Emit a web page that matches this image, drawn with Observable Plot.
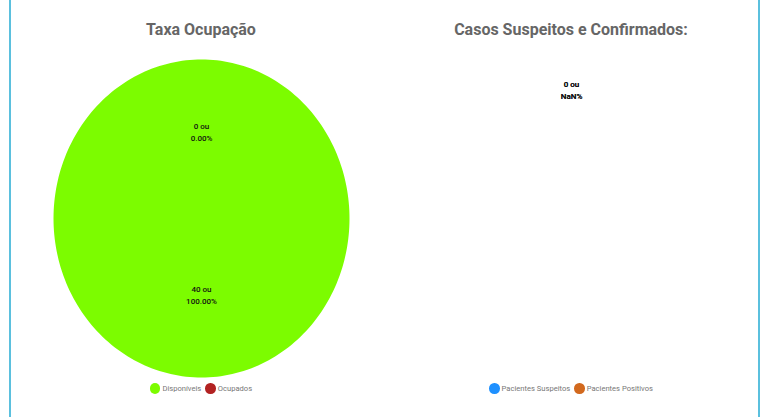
<!DOCTYPE html>
<html><head><meta charset="utf-8">
<script src="https://cdn.jsdelivr.net/npm/d3@7"></script>
<script src="https://cdn.jsdelivr.net/npm/@observablehq/plot@0.6"></script>
<style>
body{margin:0;background:#fff;font-family:Roboto,"Liberation Sans",sans-serif;width:761px;height:417px;overflow:hidden;position:relative}
#frame{position:absolute;left:9px;top:-2px;width:747px;height:425px;border-left:2px solid #5bc0de;border-right:2px solid #5bc0de;}
.half{position:absolute;top:0;width:370px;height:417px;}
.title{position:absolute;top:20px;left:0;width:100%;text-align:center;font-size:16px;font-weight:bold;color:#666;}
.chart{position:absolute;top:50px;left:0;}
.legend{position:absolute;top:383px;left:0;width:100%;display:flex;justify-content:center;gap:4px;font-size:7.6px;color:#777;align-items:center}
.item{display:flex;align-items:center}
.sw{display:inline-block;width:10.5px;height:10.5px;border-radius:50%;margin-right:2px}
</style></head>
<body>
<div id="frame"></div>
<div class="half" id="left" style="left:16px"></div>
<div class="half" id="right" style="left:386px"></div>
<script>
const ocupTitle = "Taxa Ocupação";
const ocupCats = ["Disponíveis", "Ocupados"];
const ocupVals = [40, 0];
const ocupColors = ["#7cfc00", "#b22222"];

const casosTitle = "Casos Suspeitos e Confirmados:";
const casosCats = ["Pacientes Suspeitos", "Pacientes Positivos"];
const casosVals = [0, 0];
const casosColors = ["#1e90ff", "#d2691e"];

function drawPie(el, title, cats, vals, colors) {
  const total = d3.sum(vals);
  const arcs = d3.pie().sort(null).value(d => d)(vals);
  const poly = [];
  arcs.forEach((a, i) => {
    if (!(a.endAngle - a.startAngle > 0)) return;
    const n = 240;
    poly.push({cat: cats[i], x: 0, y: 0});
    for (let k = 0; k <= n; k++) {
      const t = a.startAngle + (a.endAngle - a.startAngle) * k / n;
      poly.push({cat: cats[i], x: Math.sin(t), y: Math.cos(t)});
    }
  });
  const rf = total ? 0.514 : 0.775;
  const labels = arcs.map((a, i) => {
    const m = (a.startAngle + a.endAngle) / 2;
    return {x: rf * Math.sin(m), y: rf * Math.cos(m),
      text: `${vals[i]} ou\n${(vals[i] / total * 100).toFixed(2)}%`};
  });
  const t = document.createElement("div");
  t.className = "title"; t.textContent = title; el.appendChild(t);
  const p = Plot.plot({
    width: 370, height: 330,
    marginLeft: 37, marginRight: 37, marginTop: 9, marginBottom: 3,
    x: {domain: [-1, 1], axis: null},
    y: {domain: [-1, 1], axis: null},
    color: {domain: cats, range: colors},
    style: {background: "transparent", overflow: "visible", fontFamily: "Roboto, sans-serif"},
    marks: [
      Plot.line(poly, {x: "x", y: "y", z: "cat", fill: "cat", stroke: null}),
      Plot.text(labels, {x: "x", y: "y", dy: -5.75, text: "text", fontSize: 8, lineHeight: 1.5, fill: "#111", fontWeight: 500})
    ]
  });
  p.classList.add("chart");
  el.appendChild(p);
  const lg = document.createElement("div");
  lg.className = "legend";
  cats.forEach((c, i) => {
    const it = document.createElement("span"); it.className = "item";
    const sw = document.createElement("span"); sw.className = "sw"; sw.style.background = colors[i];
    it.appendChild(sw); it.appendChild(document.createTextNode(c));
    lg.appendChild(it);
  });
  el.appendChild(lg);
}
drawPie(document.getElementById("left"), ocupTitle, ocupCats, ocupVals, ocupColors);
drawPie(document.getElementById("right"), casosTitle, casosCats, casosVals, casosColors);
</script>
</body></html>
